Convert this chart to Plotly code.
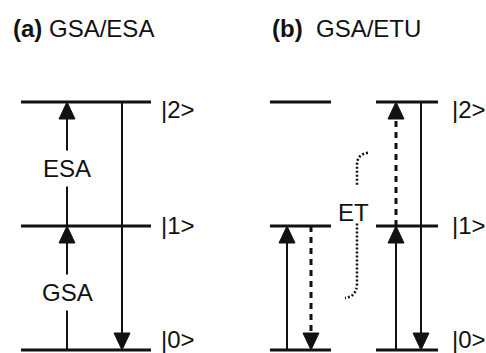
import plotly.graph_objects as go

# Energy levels (in units of the level spacing) and their kets
level_energy = [0, 1, 2]
level_names = ["|0>", "|1>", "|2>"]

# Panel captions
panel_tags = ["(a)", "(b)"]
panel_titles = ["GSA/ESA", "GSA/ETU"]

# Level columns: (panel, column, levels drawn)
columns = [
    ("a", "main", [0, 1, 2]),
    ("b", "donor", [0, 1, 2]),
    ("b", "acceptor", [0, 1, 2]),
]

# Transitions: (column, lane, from level, to level, style, label)
transitions = [
    ("main", "up", 0, 1, "solid", "GSA"),
    ("main", "up", 1, 2, "solid", "ESA"),
    ("main", "down", 2, 0, "solid", ""),
    ("donor", "up", 0, 1, "solid", ""),
    ("donor", "down", 1, 0, "dash", ""),
    ("acceptor", "up", 0, 1, "solid", ""),
    ("acceptor", "up", 1, 2, "dash", ""),
    ("acceptor", "down", 2, 0, "solid", ""),
]

# ---- layout geometry (pixel x, energy y) ----
W, H = 486, 353
PX_PER_LEVEL = 124.0
Y0_PX = 350.0                      # pixel row of the ground level
y_lo = -(H - Y0_PX) / PX_PER_LEVEL
y_hi = Y0_PX / PX_PER_LEVEL

col_span = {"main": (21, 151), "donor": (270, 331), "acceptor": (376, 438)}
lane_x = {
    ("main", "up"): 67, ("main", "down"): 122,
    ("donor", "up"): 287, ("donor", "down"): 311,
    ("acceptor", "up"): 396, ("acceptor", "down"): 421,
}
label_x = {"a": 160, "b": 451}
label_shift = {0: 11, 1: 1, 2: -7}   # vertical nudge of the ket labels (px)
title_x = {"a": 11, "b": 270}

head_len = 17 / PX_PER_LEVEL
head_half = 8
ink = "#111111"
font_family = "Arial, Liberation Sans, sans-serif"
narrow_family = "Liberation Sans Narrow, Arial Narrow, Liberation Sans, sans-serif"

fig = go.Figure()
shapes = []
annotations = []

# energy levels
for panel, col, lv in columns:
    x0, x1 = col_span[col]
    for i in lv:
        shapes.append(dict(type="line", x0=x0, x1=x1, y0=level_energy[i], y1=level_energy[i],
                           line=dict(color=ink, width=3)))

# transitions: shaft + filled head
for col, lane, a, b, style, lab in transitions:
    x = lane_x[(col, lane)]
    ya, yb = level_energy[a], level_energy[b]
    sgn = 1 if yb > ya else -1
    base = yb - sgn * head_len
    fig.add_trace(go.Scatter(
        x=[x, x], y=[ya, base], mode="lines",
        line=dict(color=ink, width=3 if style == "dash" else 2,
                  dash="6px,5px" if style == "dash" else "solid"),
        hoverinfo="skip", showlegend=False))
    fig.add_trace(go.Scatter(
        x=[x - head_half, x + head_half, x, x - head_half],
        y=[base, base, yb, base], mode="lines", fill="toself",
        fillcolor=ink, line=dict(color=ink, width=1),
        hoverinfo="skip", showlegend=False))
    if lab:
        mid = (ya + base) / 2 + 0.03
        annotations.append(dict(x=x, y=mid, text=lab, showarrow=False,
                                bgcolor="white", borderpad=4,
                                font=dict(size=24, color=ink, family=font_family)))

# ket labels
for panel in ["a", "b"]:
    for i, name in enumerate(level_names):
        annotations.append(dict(x=label_x[panel], y=level_energy[i], text=name,
                                xanchor="left", yanchor="middle", showarrow=False,
                                yshift=label_shift[i], borderpad=0,
                                font=dict(size=24, color=ink, family=narrow_family)))

# panel captions
for panel, tag, title in zip(["a", "b"], panel_tags, panel_titles):
    gap = " " if panel == "a" else "  "
    annotations.append(dict(x=title_x[panel], y=y_hi - 28.5 / PX_PER_LEVEL,
                            text=f"<b>{tag}</b>{gap}{title}", xanchor="left",
                            yanchor="middle", showarrow=False,
                            font=dict(size=24, color=ink, family=font_family)))

# energy-transfer bracket (dotted) with its label
et_x = 357
up_top, up_bend, up_end = level_energy[1] + 0.59, level_energy[1] + 0.49, level_energy[1] + 0.33
lo_start, lo_bend, lo_end = level_energy[1] + 0.02, level_energy[1] - 0.46, level_energy[1] - 0.58
et_mid = level_energy[1] + 0.11
dot = dict(color=ink, width=2.5, dash="2px,2px")
shapes.append(dict(type="path",
                   path=(f"M {et_x + 11},{up_top} Q {et_x},{up_top - 0.01} {et_x},{up_bend} "
                         f"L {et_x},{up_end}"),
                   line=dot))
shapes.append(dict(type="path",
                   path=(f"M {et_x},{lo_start} L {et_x},{lo_bend} "
                         f"Q {et_x},{lo_end + 0.01} {et_x - 12},{lo_end}"),
                   line=dot))
annotations.append(dict(x=et_x - 4, y=et_mid, text="ET", showarrow=False,
                        font=dict(size=24, color=ink, family=font_family)))

fig.update_layout(
    width=W, height=H, margin=dict(l=0, r=0, t=0, b=0),
    paper_bgcolor="white", plot_bgcolor="white",
    shapes=shapes, annotations=annotations, showlegend=False,
    xaxis=dict(range=[0, W], visible=False, fixedrange=True),
    yaxis=dict(range=[y_lo, y_hi], visible=False, fixedrange=True),
)

fig.write_html("out.html", config={"displayModeBar": False})
